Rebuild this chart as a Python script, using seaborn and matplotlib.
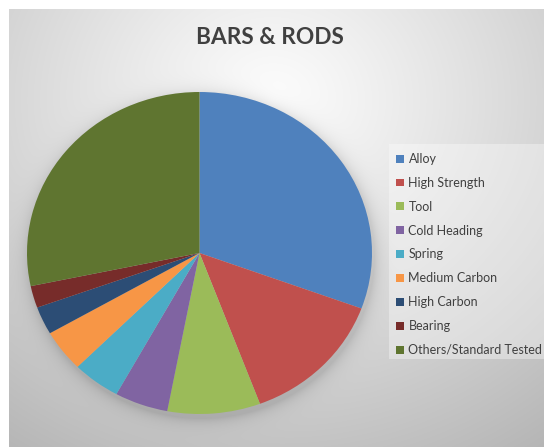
import numpy as np
import matplotlib
matplotlib.use("Agg")
import matplotlib.pyplot as plt
from matplotlib.patches import Rectangle, Patch
import seaborn as sns

categories = ["Alloy", "High Strength", "Tool", "Cold Heading", "Spring",
              "Medium Carbon", "High Carbon", "Bearing", "Others/Standard Tested"]
values = [30.6, 13.7, 8.7, 5.0, 4.5, 4.2, 2.8, 2.2, 28.3]
colors = ["#4F81BD", "#C0504D", "#9BBB59", "#8064A2", "#4BACC6",
          "#F79646", "#2C4D75", "#772C2A", "#5F7530"]
title = "BARS & RODS"

sns.set_style("white")
plt.rcParams["font.family"] = ["Lato", "DejaVu Sans"]

W, H = 544, 447
fig = plt.figure(figsize=(W / 100, H / 100), dpi=100)
fig.patch.set_facecolor("white")

# background gradient with soft pie shadow
x0, y0 = 9, 9
yy, xx = np.mgrid[0:H - y0, 0:W - x0].astype(float)
xx += x0
yy += y0
d = np.sqrt(((xx - 272) / 1.0) ** 2 + ((yy - 100) / 0.9) ** 2)
bg = 253 - 60 * np.clip(d / 400, 0, 1.3) ** 1.1
# pie shadow
cx, cy, rx, ry = 201, 256, 173, 162
r = np.sqrt(((xx - cx) / rx) ** 2 + ((yy - cy) / ry) ** 2)
dist_px = (r - 1) * 165
shadow = np.where(dist_px > 0, np.exp(-dist_px / 7.0), 1.0)
bg = bg - 28 * shadow
bg = np.clip(bg, 0, 255) / 255.0
img = np.dstack([bg, bg, bg])
bax = fig.add_axes([x0 / W, 0, (W - x0) / W, (H - y0) / H])
bax.imshow(img, aspect="auto", interpolation="bilinear")
bax.set_axis_off()

# legend box
fig.add_artist(Rectangle((389 / W, (H - 359) / H), (W - 389) / W, 215 / H,
                         transform=fig.transFigure, facecolor="white",
                         alpha=0.35, edgecolor="none"))

# pie (elliptical as in the reference)
left, right, top, bottom = 27, 372, 92, 414
ax = fig.add_axes([left / W, (H - bottom) / H, (right - left) / W, (bottom - top) / H])
ax.pie(values, colors=colors, startangle=90, counterclock=False, radius=1,
       wedgeprops=dict(linewidth=0))
ax.set_aspect("auto")
ax.set_xlim(-1, 1)
ax.set_ylim(-1, 1)
ax.set_axis_off()

fig.text(270 / W, 1 - 37 / H, title, ha="center", va="center",
         fontsize=16.3, fontweight="bold", color="#404040")

handles = [Patch(facecolor=c, edgecolor="none") for c in colors]
leg = fig.legend(handles, categories, loc="upper left",
                 bbox_to_anchor=(396 / W, 1 - 153 / H), frameon=False,
                 fontsize=9, labelspacing=0.95, handlelength=0.6,
                 handleheight=0.6, handletextpad=0.4, borderpad=0,
                 borderaxespad=0)
for t in leg.get_texts():
    t.set_color("#404040")

fig.savefig("out.png", dpi=100)
